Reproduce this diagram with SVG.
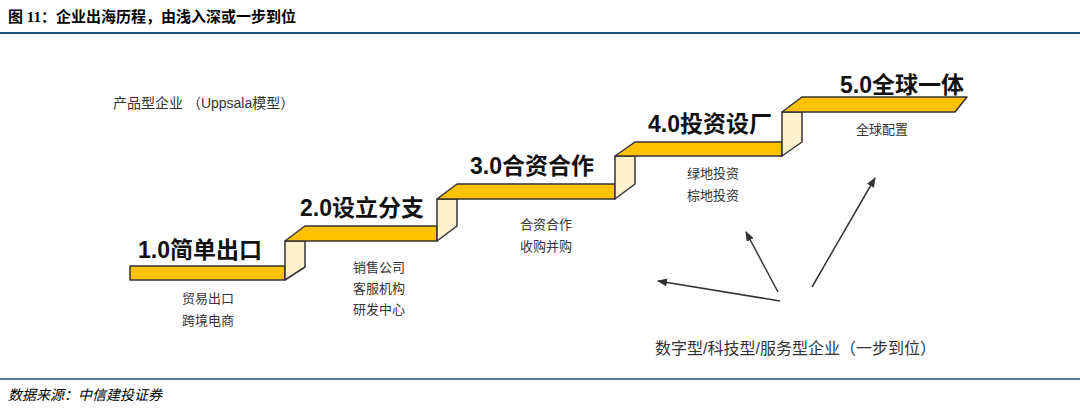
<svg xmlns="http://www.w3.org/2000/svg" width="1080" height="412" viewBox="0 0 1080 412">
<defs>
<style>
.t{font-family:"Liberation Sans","Noto Sans CJK SC",sans-serif;fill:#333}
.h{font-family:"Liberation Serif","Noto Sans CJK SC",serif;font-weight:bold;font-size:15px;fill:#000}
.st{font-family:"Liberation Sans","Noto Sans CJK SC",sans-serif;font-weight:bold;font-size:23px;fill:#111}
.s{font-size:13px}
.f{fill:#FFC000;stroke:#333;stroke-width:1.5;stroke-linejoin:round}
.r{fill:#FFF2CC;stroke:#333;stroke-width:1.5;stroke-linejoin:round}
.a{stroke:#333;stroke-width:1.5;fill:none;marker-end:url(#ah)}
</style>
<marker id="ah" markerWidth="10" markerHeight="8" refX="9" refY="4" orient="auto" markerUnits="userSpaceOnUse"><path d="M0,0 L10,4 L0,8 Z" fill="#333"/></marker>
</defs>
<rect width="1080" height="412" fill="#fff"/>
<text class="h" x="8" y="22">图 11：企业出海历程，由浅入深或一步到位</text>
<line x1="0" y1="33" x2="1080" y2="33" stroke="#1F4E79" stroke-width="2"/>
<g id="stairs">
<g id="step1"><rect class="f" x="130" y="266" width="155" height="14"/></g>
<g id="riser1"><polygon class="r" points="285,241 305,241 305,267 285,280"/></g>
<g id="step2"><polygon class="f" points="285,241 305,226 437,226 437,241"/></g>
<g id="riser2"><polygon class="r" points="437,199 457,199 457,226 437,241"/></g>
<g id="step3"><polygon class="f" points="437,199 457,184 615,184 615,199"/></g>
<g id="riser3"><polygon class="r" points="615,156 635,156 635,184 615,199"/></g>
<g id="step4"><polygon class="f" points="615,156 635,142 782,142 782,156"/></g>
<g id="riser4"><polygon class="r" points="782,112 802,112 802,142 782,156"/></g>
<g id="step5"><polygon class="f" points="782,112 802,97 967,97 955,112"/></g>
</g>
<g id="labels">
<text class="st" x="138" y="258">1.0简单出口</text>
<text class="st" x="300" y="216">2.0设立分支</text>
<text class="st" x="470" y="174">3.0合资合作</text>
<text class="st" x="648" y="132">4.0投资设厂</text>
<text class="st" x="840" y="93">5.0全球一体</text>
<text class="t s" x="182" y="303">贸易出口</text>
<text class="t s" x="182" y="325">跨境电商</text>
<text class="t s" x="353" y="272">销售公司</text>
<text class="t s" x="353" y="293">客服机构</text>
<text class="t s" x="353" y="314">研发中心</text>
<text class="t s" x="520" y="229">合资合作</text>
<text class="t s" x="520" y="251">收购并购</text>
<text class="t s" x="687" y="178">绿地投资</text>
<text class="t s" x="687" y="200">棕地投资</text>
<text class="t s" x="856" y="134">全球配置</text>
<text class="t" x="113" y="108" font-size="14">产品型企业 （Uppsala模型）</text>
<text class="t" x="655" y="354" font-size="16">数字型/科技型/服务型企业（一步到位）</text>
</g>
<g id="connectors">
<line class="a" x1="780" y1="301" x2="658" y2="281"/>
<line class="a" x1="778" y1="292" x2="746" y2="232"/>
<line class="a" x1="812" y1="287" x2="875" y2="178"/>
</g>
<line x1="0" y1="379" x2="1080" y2="379" stroke="#1F4E79" stroke-width="1.5"/>
<text x="8" y="400" font-family="Liberation Serif,'Noto Sans CJK SC',serif" font-style="italic" font-size="14" fill="#000">数据来源：中信建投证券</text>
</svg>
